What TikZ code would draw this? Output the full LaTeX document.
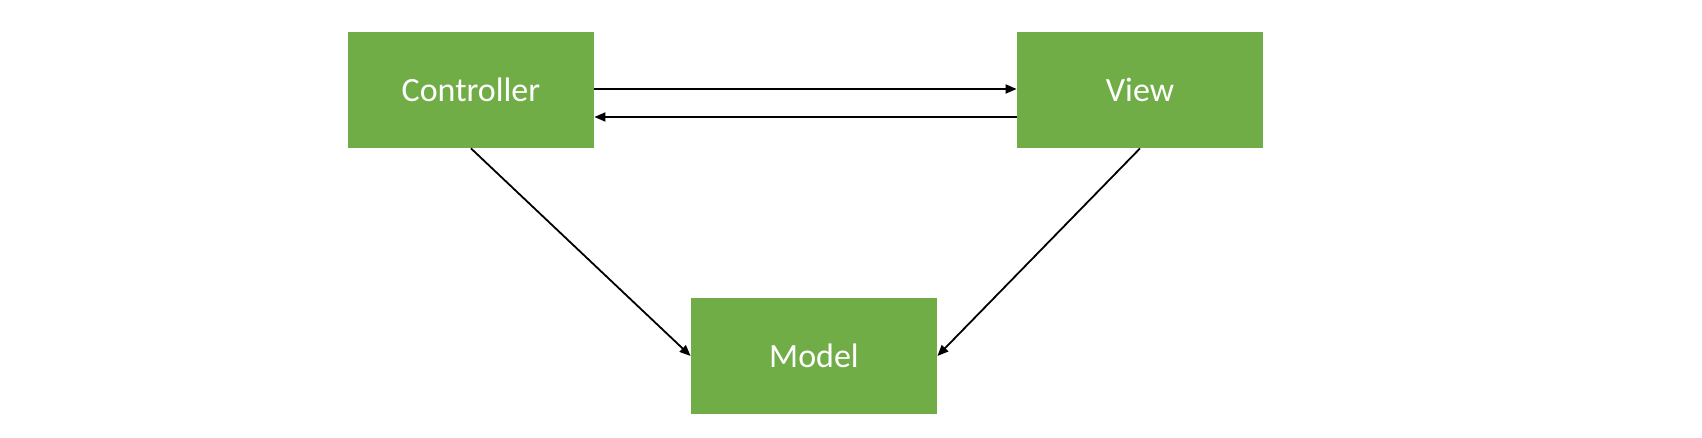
\documentclass[tikz,border=0pt]{standalone}
\usepackage{fontspec}
\setmainfont{Carlito}
\usetikzlibrary{arrows.meta}
\definecolor{boxgreen}{RGB}{112,173,71}
\begin{document}
\begin{tikzpicture}[x=0.5pt,y=-0.5pt,
  box/.style={fill=boxgreen,draw=none,text=white,inner sep=0pt,
    minimum width=123pt,minimum height=58pt,font=\fontsize{17}{20}\selectfont},
  conn/.style={line width=0.9pt,-{Triangle[length=5.5pt,width=4.5pt]}}]
\useasboundingbox (0,0) rectangle (1702,438);
\node[box] (C) at (471,90) {Controller};
\node[box] (V) at (1140,90) {View};
\node[box] (M) at (814,356) {Model};
\draw[conn] ([yshift=0.5pt]C.east) -- ([yshift=0.5pt]V.west);
\draw[conn] ([yshift=-13.5pt]V.west) -- ([yshift=-13.5pt]C.east);
\draw[conn] (C.south) -- (M.west);
\draw[conn] (V.south) -- (M.east);
\end{tikzpicture}
\end{document}
